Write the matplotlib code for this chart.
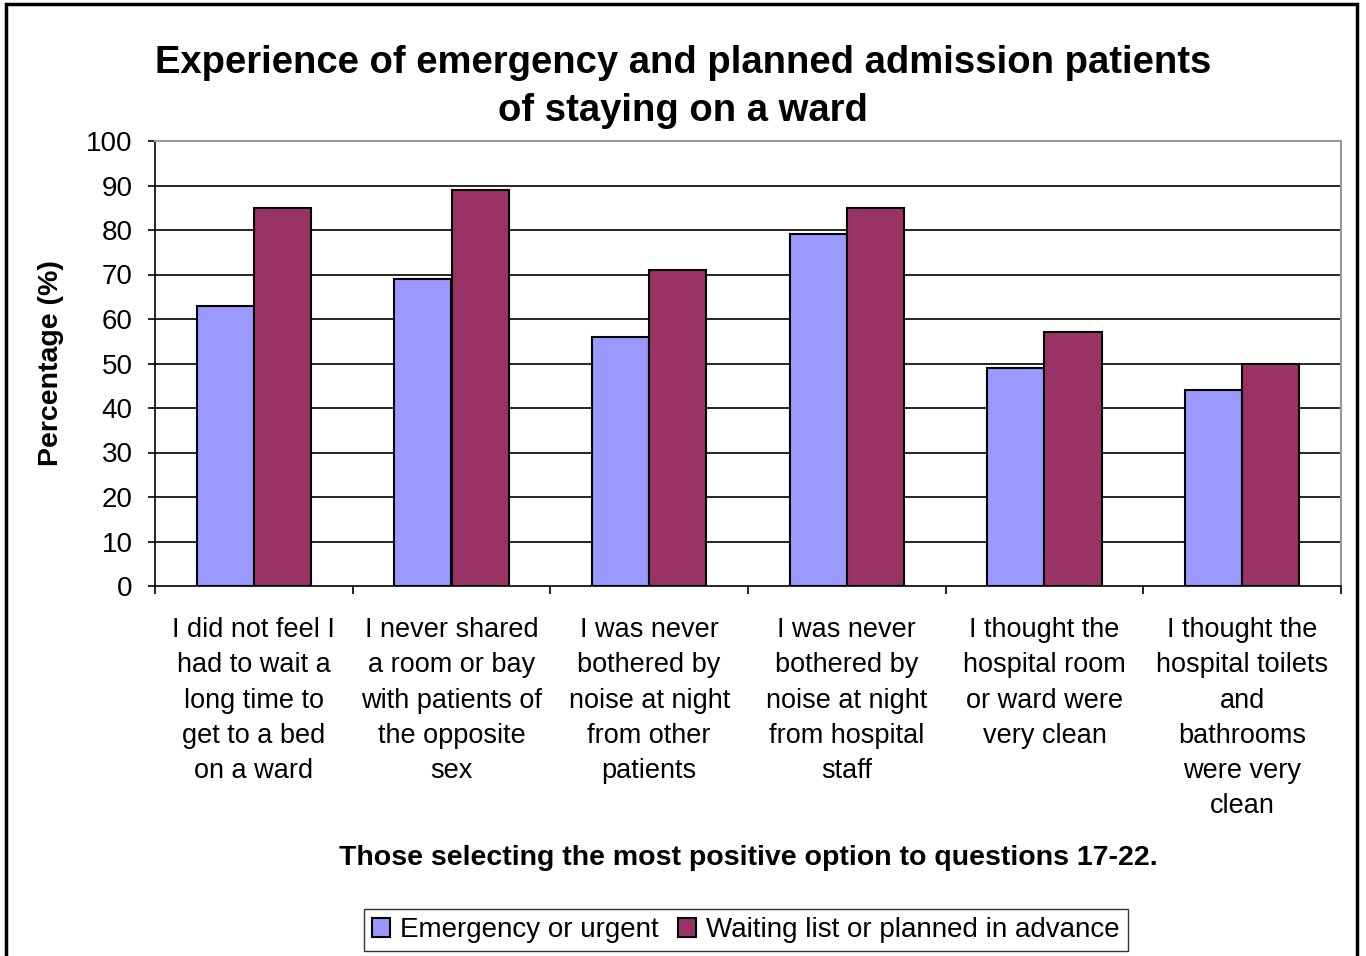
import matplotlib
matplotlib.use('Agg')
import numpy as np
import matplotlib.pyplot as plt
from matplotlib.patches import Rectangle

plt.rcParams['font.family'] = ['Liberation Sans', 'DejaVu Sans']

categories = [
    "I did not feel I\nhad to wait a\nlong time to\nget to a bed\non a ward",
    "I never shared\na room or bay\nwith patients of\nthe opposite\nsex",
    "I was never\nbothered by\nnoise at night\nfrom other\npatients",
    "I was never\nbothered by\nnoise at night\nfrom hospital\nstaff",
    "I thought the\nhospital room\nor ward were\nvery clean",
    "I thought the\nhospital toilets\nand\nbathrooms\nwere very\nclean",
]
emergency = [63, 69, 56, 79, 49, 44]
planned = [85, 89, 71, 85, 57, 50]
series_names = ["Emergency or urgent", "Waiting list or planned in advance"]
y_ticks = list(range(0, 101, 10))

fig = plt.figure(figsize=(13.66, 9.56), dpi=100)
ax = fig.add_axes([155 / 1366, 1 - 586 / 956, 1186 / 1366, 445 / 956])

x = np.arange(len(categories))
w = 0.29
b1 = ax.bar(x - w / 2, emergency, w, color='#9999FF', edgecolor='black', linewidth=1.5,
            label=series_names[0], zorder=3)
b2 = ax.bar(x + w / 2, planned, w, color='#993366', edgecolor='black', linewidth=1.5,
            label=series_names[1], zorder=3)

ax.set_xlim(-0.5, len(categories) - 0.5)
ax.set_ylim(0, 100)
ax.set_yticks(y_ticks)
ax.set_yticklabels([str(t) for t in y_ticks], fontsize=20)
for t in y_ticks[1:-1]:
    ax.axhline(t, color='black', linewidth=1.2, zorder=1)

# category ticks sit on the group boundaries, labels in the middle
ax.set_xticks(np.arange(-0.5, len(categories), 1.0))
ax.set_xticklabels([])
ax.set_xticks(x, minor=True)
ax.set_xticklabels(categories, minor=True, fontsize=19.5, linespacing=1.46, va='top')
ax.tick_params(axis='x', which='minor', length=0, pad=22.5)
ax.tick_params(axis='x', which='major', length=6, width=1.2, direction='out')
ax.tick_params(axis='y', length=5, width=1.2, direction='out', pad=11)

for side in ['top', 'right']:
    ax.spines[side].set_color('#999999')
    ax.spines[side].set_linewidth(1.5)
ax.spines['left'].set_linewidth(1.2)
ax.spines['bottom'].set_linewidth(1.2)

ax.set_ylabel('Percentage (%)', fontsize=20.5, fontweight='bold')
ax.yaxis.set_label_coords(-0.077, 0.5)

fig.text(683 / 1366, 1 - 87 / 956,
         'Experience of emergency and planned admission patients\nof staying on a ward',
         ha='center', va='center', fontsize=27.5, fontweight='bold', linespacing=1.42)
fig.text(748 / 1366, 1 - 858 / 956,
         'Those selecting the most positive option to questions 17-22.',
         ha='center', va='center', fontsize=20.5, fontweight='bold')

leg = fig.legend(handles=[b1, b2], loc='center', bbox_to_anchor=(746 / 1366, 1 - 930 / 956),
                 ncol=2, fontsize=20, frameon=True, fancybox=False, edgecolor='black',
                 handlelength=0.65, handleheight=0.65, handletextpad=0.35, columnspacing=0.7,
                 borderpad=0.3, borderaxespad=0)
leg.get_frame().set_linewidth(1.0)

fig.patches.append(Rectangle((6 / 1366, -0.01), 1351 / 1366, 1 - 4 / 956 + 0.01,
                             transform=fig.transFigure, fill=False,
                             edgecolor='black', linewidth=2.5))

fig.savefig('out.png', dpi=100)
plt.close(fig)
